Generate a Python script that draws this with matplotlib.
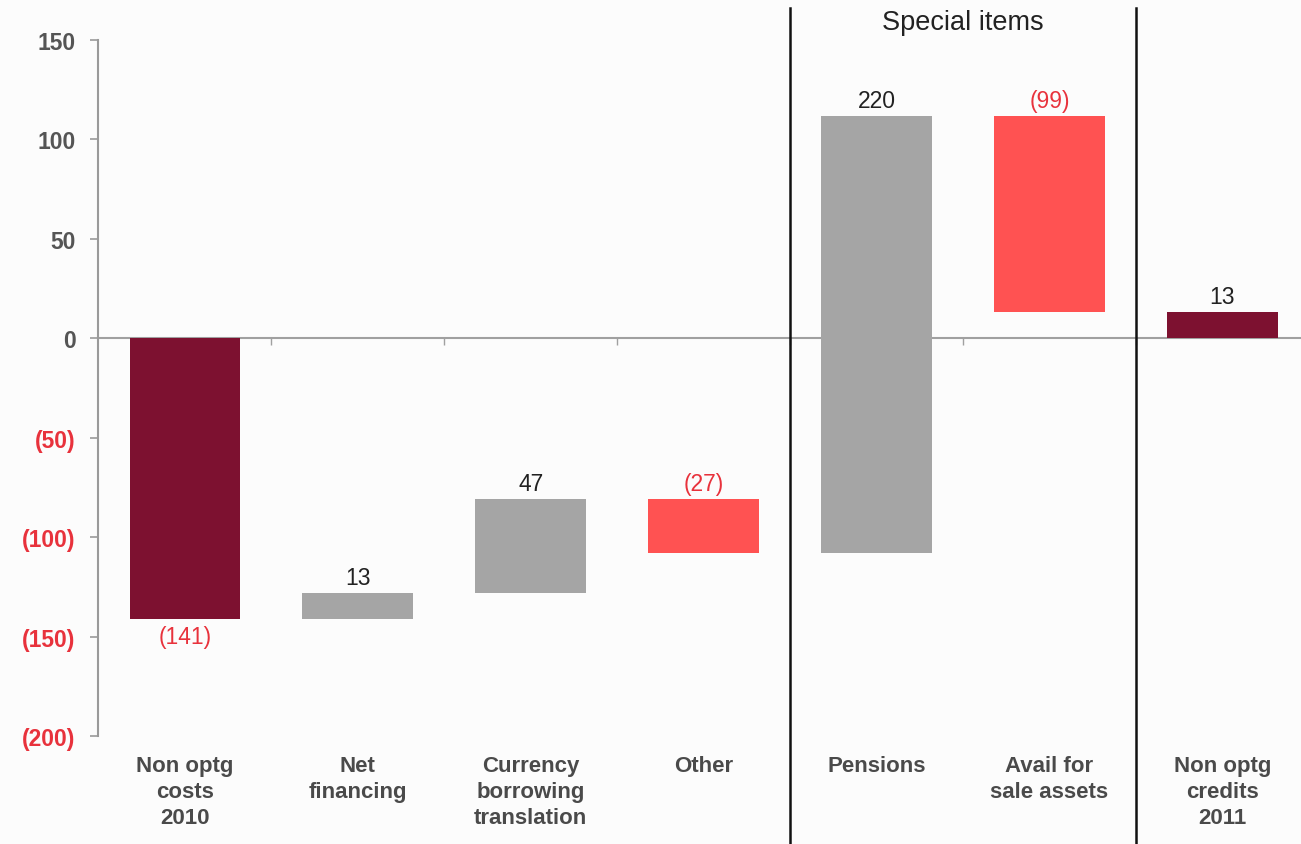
import numpy as np
import matplotlib
matplotlib.use("Agg")
import matplotlib.pyplot as plt

plt.rcParams['font.family'] = ['Liberation Sans', 'DejaVu Sans']

# waterfall data
categories = ["Non optg\ncosts\n2010", "Net\nfinancing", "Currency\nborrowing\ntranslation",
              "Other", "Pensions", "Avail for\nsale assets", "Non optg\ncredits\n2011"]
changes = [-141, 13, 47, -27, 220, -99]
total_2011 = 13
value_labels = ["(141)", "13", "47", "(27)", "220", "(99)", "13"]
kinds = ["total", "up", "up", "down", "up", "down", "total"]

yticks = [150, 100, 50, 0, -50, -100, -150, -200]
ytick_labels = ["150", "100", "50", "0", "(50)", "(100)", "(150)", "(200)"]

colors = {"total": "#7d1130", "up": "#a5a5a5", "down": "#ff5252"}
red_txt = "#e8323c"

# build bottoms/heights
bottoms, heights = [], []
level = 0
for i, k in enumerate(kinds):
    if i == 0:
        bottoms.append(0); heights.append(changes[0]); level = changes[0]
    elif k == "total":
        bottoms.append(0); heights.append(total_2011)
    else:
        c = changes[i]
        bottoms.append(level); heights.append(c); level += c

x = np.arange(len(categories))

fig = plt.figure(figsize=(13.01, 8.45), dpi=100)
fig.patch.set_facecolor("#fcfcfc")
ax = fig.add_axes([0.0753, 0.1278, 0.924, 0.8237])
ax.set_facecolor("none")

ax.bar(x, heights, bottom=bottoms, width=0.64,
       color=[colors[k] for k in kinds], zorder=3)

# value labels
for i in range(len(x)):
    top = max(bottoms[i], bottoms[i] + heights[i])
    bot = min(bottoms[i], bottoms[i] + heights[i])
    neg = value_labels[i].startswith("(")
    if i == 0:
        ax.text(x[i], bot - 3, value_labels[i], ha="center", va="top",
                fontsize=16.5, color=red_txt)
    else:
        ax.text(x[i], top + 2, value_labels[i], ha="center", va="bottom",
                fontsize=16.5, color=red_txt if neg else "#222222")

ax.set_xlim(-0.503, 6.45)
ax.set_ylim(-200, 150)

# axes styling
for s in ["top", "right"]:
    ax.spines[s].set_visible(False)
ax.spines["left"].set_color("#9a9a9a")
ax.spines["left"].set_linewidth(1.5)
ax.spines["bottom"].set_position(("data", 0))
ax.spines["bottom"].set_color("#a0a0a0")
ax.spines["bottom"].set_linewidth(1.5)
ax.spines["bottom"].set_zorder(2)

ax.set_yticks(yticks)
ax.set_yticklabels(ytick_labels, fontsize=16.5, fontweight="bold")
for lab, v in zip(ax.get_yticklabels(), yticks):
    lab.set_color(red_txt if v < 0 else "#555555")
ax.tick_params(axis="y", length=6, width=1.2, color="#9a9a9a", pad=10)

ax.set_xticks(x[:-1] + 0.5)
ax.set_xticklabels([])
ax.tick_params(axis="x", length=5, width=1, color="#a0a0a0", direction="out")

# category labels under the plot
for i, c in enumerate(categories):
    ax.text(x[i], -209.5, c, ha="center", va="top", fontsize=16,
            fontweight="bold", color="#4a4a4a", linespacing=1.3)

# section dividers
for xd in [3.5, 5.5]:
    ax.plot([xd, xd], [-255, 166], color="#111111", lw=1.8,
            clip_on=False, zorder=4)

ax.text(4.5, 159, "Special items", ha="center", va="center",
        fontsize=19.5, color="#222222")

fig.savefig("out.png", dpi=100, facecolor=fig.get_facecolor())
